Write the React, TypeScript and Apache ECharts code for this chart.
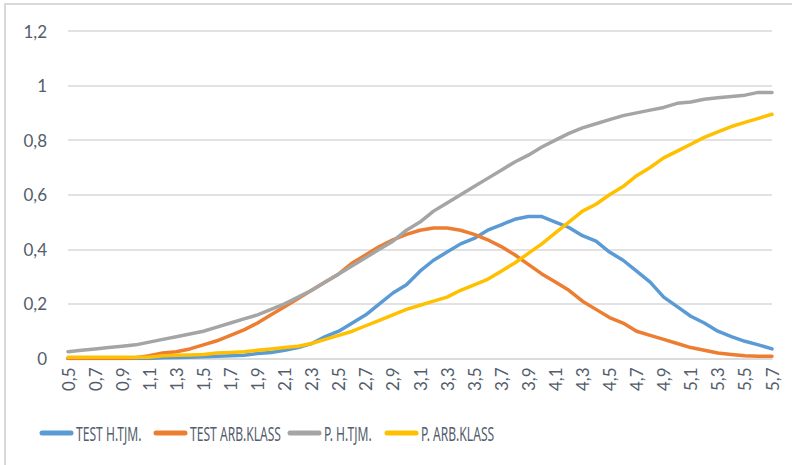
import React, { useEffect, useRef } from "react";
import * as echarts from "echarts";

const categories = [
  "0,5", "0,6", "0,7", "0,8", "0,9", "1", "1,1", "1,2", "1,3", "1,4", "1,5", "1,6", "1,7", "1,8", "1,9",
  "2", "2,1", "2,2", "2,3", "2,4", "2,5", "2,6", "2,7", "2,8", "2,9", "3", "3,1", "3,2", "3,3", "3,4",
  "3,5", "3,6", "3,7", "3,8", "3,9", "4", "4,1", "4,2", "4,3", "4,4", "4,5", "4,6", "4,7", "4,8", "4,9",
  "5", "5,1", "5,2", "5,3", "5,4", "5,5", "5,6", "5,7",
];

const testHTjm = [
  0, 0, 0, 0, 0, 0, 0, 0.003, 0.004, 0.005, 0.006, 0.008, 0.01, 0.012, 0.018,
  0.022, 0.03, 0.04, 0.055, 0.08, 0.1, 0.13, 0.16, 0.2, 0.24, 0.27, 0.32, 0.36, 0.39, 0.42,
  0.44, 0.47, 0.49, 0.51, 0.52, 0.52, 0.5, 0.48, 0.45, 0.43, 0.39, 0.36, 0.32, 0.28, 0.225,
  0.19, 0.155, 0.13, 0.1, 0.08, 0.063, 0.05, 0.035,
];

const testArbKlass = [
  0, 0, 0, 0, 0, 0.003, 0.01, 0.02, 0.025, 0.035, 0.05, 0.065, 0.085, 0.105, 0.13,
  0.16, 0.19, 0.22, 0.25, 0.28, 0.31, 0.35, 0.38, 0.41, 0.435, 0.455, 0.47, 0.478, 0.478, 0.47,
  0.455, 0.435, 0.41, 0.38, 0.345, 0.31, 0.28, 0.25, 0.21, 0.18, 0.15, 0.13, 0.1, 0.085, 0.07,
  0.055, 0.04, 0.03, 0.02, 0.015, 0.01, 0.008, 0.008,
];

const pHTjm = [
  0.025, 0.03, 0.035, 0.04, 0.045, 0.05, 0.06, 0.07, 0.08, 0.09, 0.1, 0.115, 0.13, 0.145, 0.16,
  0.18, 0.2, 0.225, 0.25, 0.28, 0.31, 0.34, 0.37, 0.4, 0.43, 0.47, 0.5, 0.54, 0.57, 0.6,
  0.63, 0.66, 0.69, 0.72, 0.745, 0.775, 0.8, 0.825, 0.845, 0.86, 0.875, 0.89, 0.9, 0.91, 0.92,
  0.935, 0.94, 0.95, 0.955, 0.96, 0.965, 0.975, 0.975,
];

const pArbKlass = [
  0.005, 0.005, 0.005, 0.005, 0.005, 0.005, 0.005, 0.01, 0.012, 0.013, 0.015, 0.02, 0.022, 0.025, 0.03,
  0.035, 0.04, 0.045, 0.055, 0.07, 0.085, 0.1, 0.12, 0.14, 0.16, 0.18, 0.195, 0.21, 0.225, 0.25,
  0.27, 0.29, 0.32, 0.35, 0.385, 0.42, 0.46, 0.5, 0.54, 0.565, 0.6, 0.63, 0.67, 0.7, 0.735,
  0.76, 0.785, 0.81, 0.83, 0.85, 0.865, 0.88, 0.895,
];

const seriesNames = ["TEST H.TJM.", "TEST ARB.KLASS", "P. H.TJM.", "P. ARB.KLASS"];
const seriesColors = ["#5B9BD5", "#ED7D31", "#A5A5A5", "#FFC000"];
const seriesData = [testHTjm, testArbKlass, pHTjm, pArbKlass];

// legend layout (pixel positions of each legend entry's line start)
const legendLineStarts = [40, 154, 288, 385];

export default function App() {
  const ref = useRef<HTMLDivElement>(null);
  useEffect(() => {
    if (!ref.current) return;
    const chart = echarts.init(ref.current, null, { renderer: "svg" });
    const textColor = "#535d6c";
    const legendY = 434;
    const legendGraphics: any[] = [];
    seriesNames.forEach((name, i) => {
      const x0 = legendLineStarts[i];
      legendGraphics.push({
        type: "line",
        shape: { x1: x0 + 2, y1: legendY - 1, x2: x0 + 31, y2: legendY - 1 },
        style: { stroke: seriesColors[i], lineWidth: 5, lineCap: "round" },
        silent: true,
      });
      legendGraphics.push({
        type: "text",
        x: x0 + 36,
        y: legendY,
        scaleX: 0.62,
        style: {
          text: name,
          x: 0,
          y: 0,
          fill: textColor,
          fontSize: 19.5,
          fontFamily: "'Noto Sans', sans-serif",
          textVerticalAlign: "middle",
          verticalAlign: "middle",
        },
        silent: true,
      });
    });
    chart.setOption({
      animation: false,
      backgroundColor: "#ffffff",
      grid: { left: 68, right: 20, top: 31, bottom: 106.5, containLabel: false },
      graphic: [
        {
          type: "rect",
          shape: { x: 5, y: 4, width: 820, height: 500 },
          style: { fill: "none", stroke: "#D9D9D9", lineWidth: 2 },
          silent: true,
        },
        ...legendGraphics,
      ],
      xAxis: {
        type: "category",
        boundaryGap: false,
        data: categories,
        axisLine: { show: true, lineStyle: { color: "#D9D9D9", width: 1.5 } },
        axisTick: { show: false },
        axisLabel: {
          interval: 1,
          rotate: 90,
          margin: 9,
          color: textColor,
          fontSize: 17,
          fontFamily: "Lato, 'Open Sans', sans-serif",
        },
        splitLine: { show: false },
      },
      yAxis: {
        type: "value",
        min: 0,
        max: 1.2,
        interval: 0.2,
        axisLine: { show: false },
        axisTick: { show: false },
        axisLabel: {
          margin: 21,
          color: textColor,
          fontSize: 17,
          fontFamily: "Lato, 'Open Sans', sans-serif",
          formatter: (v: number) => String(Math.round(v * 10) / 10).replace(".", ","),
        },
        splitLine: { show: true, lineStyle: { color: "#D9D9D9", width: 1.5 } },
      },
      series: seriesNames.map((name, i) => ({
        name,
        type: "line",
        data: seriesData[i],
        symbol: "none",
        showSymbol: false,
        smooth: false,
        itemStyle: { color: seriesColors[i] },
        lineStyle: { color: seriesColors[i], width: 3.5, cap: "round", join: "round" },
      })),
    });
    return () => chart.dispose();
  }, []);
  return (
    <div
      ref={ref}
      style={{ position: "fixed", left: 0, top: 0, width: 792, height: 465 }}
    />
  );
}
